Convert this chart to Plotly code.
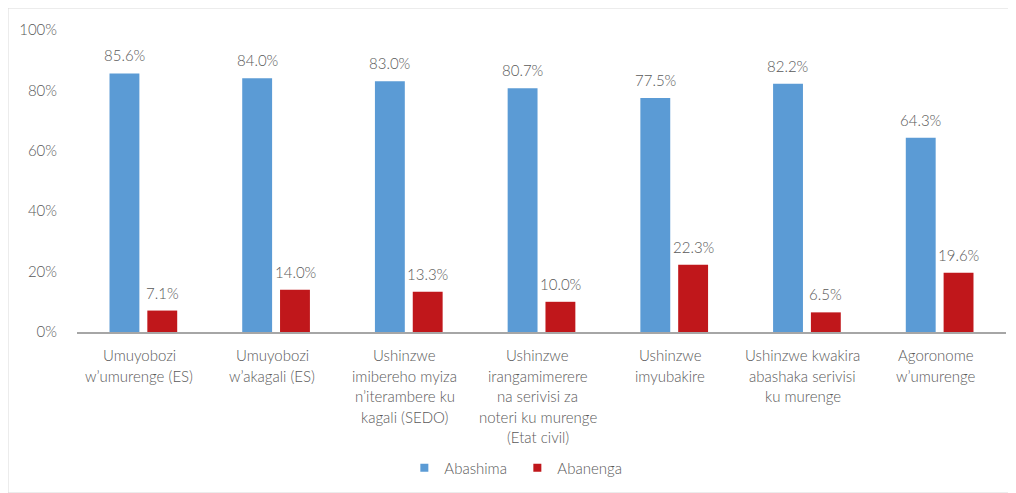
import plotly.graph_objects as go

categories = [
    "Umuyobozi<br>w’umurenge (ES)",
    "Umuyobozi<br>w’akagali (ES)",
    "Ushinzwe<br>imibereho myiza<br>n’iterambere ku<br>kagali (SEDO)",
    "Ushinzwe<br>irangamimerere<br>na serivisi za<br>noteri ku murenge<br>(Etat civil)",
    "Ushinzwe<br>imyubakire",
    "Ushinzwe kwakira<br>abashaka serivisi<br>ku murenge",
    "Agoronome<br>w’umurenge",
]
series_names = ["Abashima", "Abanenga"]
abashima = [85.6, 84.0, 83.0, 80.7, 77.5, 82.2, 64.3]
abanenga = [7.1, 14.0, 13.3, 10.0, 22.3, 6.5, 19.6]
y_ticks = [0, 20, 40, 60, 80, 100]
y_tick_labels = ["0%", "20%", "40%", "60%", "80%", "100%"]

FONT = "Lato"
GREY = "#595959"
BLUE = "#5B9BD5"
RED = "#C0171B"

# page body has an 8px margin: figure coords = window coords - 8
OFF = 8
W, H = 1016 - OFF, 493 - OFF
L = 77 - OFF
T = 30 - OFF
R = 10
B = H - (332 - OFF)
pw, ph = W - L - R, H - T - B

def px_x(p):
    return (p - OFF - L) / pw

def px_y(p):
    return (H - B - (p - OFF)) / ph

fig = go.Figure()
for name, vals, col in zip(series_names, [abashima, abanenga], [BLUE, RED]):
    fig.add_trace(go.Bar(name=name, x=categories, y=vals, showlegend=False,
                         marker=dict(color=col, line=dict(width=0))))
# legend entries with small square swatches
for name, col in zip(series_names, [BLUE, RED]):
    fig.add_trace(go.Scatter(name=name, x=[None], y=[None], mode="markers",
                             marker=dict(symbol="square", size=8, color=col),
                             showlegend=True))

annotations = []
slot_px = 19
for cat, a, b in zip(categories, abashima, abanenga):
    for v, dx in ((a, -slot_px), (b, slot_px)):
        annotations.append(dict(
            x=cat, y=v, xref="x", yref="y", text=f"{v:.1f}%", showarrow=False,
            xanchor="center", yanchor="bottom", xshift=dx, yshift=7,
            font=dict(family=FONT, size=15, color=GREY, weight=300)))
    for i, line in enumerate(cat.split("<br>")):
        annotations.append(dict(
            x=cat, y=0, xref="x", yref="y", text=line, showarrow=False,
            xanchor="center", yanchor="middle", xshift=-4, yshift=-(23 + i * 20.6),
            font=dict(family=FONT, size=15, color=GREY, weight=300)))

fig.update_layout(
    width=W, height=H,
    margin=dict(l=L, r=R, t=T, b=B, autoexpand=False),
    paper_bgcolor="white", plot_bgcolor="white",
    barmode="group", bargap=0.43, bargroupgap=0.21,
    font=dict(family=FONT, size=15, color=GREY, weight=300),
    showlegend=True,
    legend=dict(orientation="h", x=0.474, xanchor="center", y=px_y(468), yanchor="middle",
                font=dict(family=FONT, size=15, color=GREY, weight=300),
                itemwidth=30, traceorder="normal",
                entrywidth=68, entrywidthmode="pixels"),
    xaxis=dict(showline=True, linecolor="#A6A6A6", linewidth=1.5, ticks="",
               showticklabels=False, showgrid=False),
    yaxis=dict(range=[0, 100], tickvals=y_ticks, ticktext=y_tick_labels,
               showgrid=False, showline=False, zeroline=False, ticks="",
               ticklabelstandoff=19,
               tickfont=dict(family=FONT, size=15, color=GREY, weight=300)),
    annotations=annotations,
    shapes=[dict(type="rect", xref="paper", yref="paper",
                 x0=px_x(8), x1=px_x(1012), y0=px_y(493), y1=px_y(8),
                 line=dict(color="#D9D9D9", width=1), fillcolor="rgba(0,0,0,0)", layer="below")],
)

fig.write_html("out.html")
